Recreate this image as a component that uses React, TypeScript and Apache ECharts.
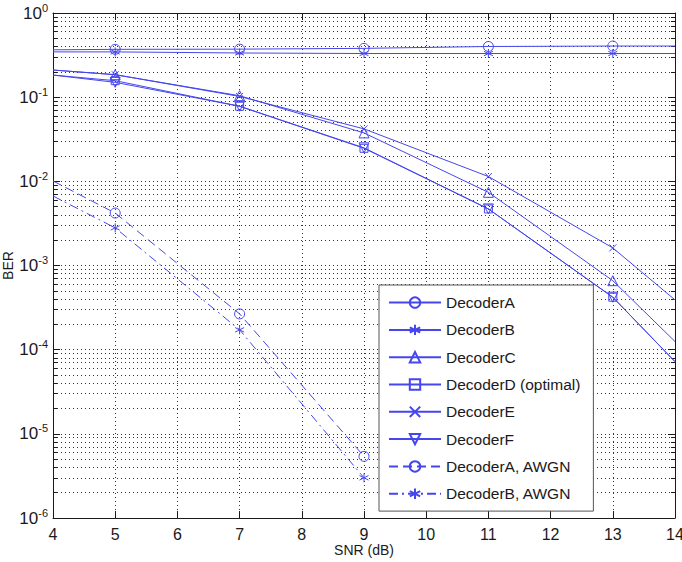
import React, { useEffect, useRef } from "react";
import * as echarts from "echarts";

// SNR points (dB); markers are drawn only at the odd ones
const snr = [4, 5, 7, 9, 11, 13, 14];
const decoderA = [0.365, 0.37, 0.372, 0.38, 0.4, 0.405, 0.405];
const decoderB = [0.345, 0.345, 0.335, 0.33, 0.33, 0.33, 0.33];
const decoderC = [0.21, 0.185, 0.104, 0.0376, 0.0074, 0.00066, 0.000125];
const decoderD = [0.183, 0.157, 0.078, 0.0247, 0.0047, 0.00042, 0.000072];
const decoderE = [0.21, 0.185, 0.102, 0.042, 0.0114, 0.00162, 0.00039];
const decoderF = [0.183, 0.15, 0.078, 0.025, 0.0047, 0.00042, 0.000072];

const snrAwgn = [4, 5, 7, 9];
const awgnA = [0.0101, 0.0042, 0.000266, 0.0000054];
const awgnB = [0.0067, 0.0028, 0.000172, 0.000003];

const seriesNames = [
  "DecoderA",
  "DecoderB",
  "DecoderC",
  "DecoderD (optimal)",
  "DecoderE",
  "DecoderF",
  "DecoderA, AWGN",
  "DecoderB, AWGN",
];

const decades = [1e-6, 1e-5, 1e-4, 1e-3, 1e-2, 1e-1, 1];
const minorSteps = [2, 3, 4, 5, 6, 7, 8, 9];
const snrTicks = [4, 5, 6, 7, 8, 9, 10, 11, 12, 13, 14];

const BLUE = "#4646ee";
const INK = "#1a1a1a";
const FONT = "'Liberation Sans', Arial, Helvetica, sans-serif";

const SYM_STAR = "path://M5,0L5,10M0.67,2.5L9.33,7.5M0.67,7.5L9.33,2.5";
const SYM_X = "path://M0,0L10,10M0,10L10,0";
const SYM_DOWN = "path://M0,0L10,0L5,10Z";

function minorValues() {
  const out: number[] = [];
  for (let i = 0; i < decades.length - 1; i++) {
    for (const m of minorSteps) out.push(m * decades[i]);
  }
  return out;
}

function points(xs: number[], ys: number[], edgesPlain: boolean) {
  return xs.map((x, i) => {
    const plain = edgesPlain && (x === 4 || x === 14);
    return plain ? { value: [x, ys[i]], symbol: "none" } : { value: [x, ys[i]] };
  });
}

function lineSeries(
  name: string,
  xs: number[],
  ys: number[],
  symbol: string,
  symbolSize: number,
  dash: number[] | "solid",
  edgesPlain: boolean
) {
  return {
    name,
    type: "line",
    xAxisIndex: 0,
    yAxisIndex: 0,
    data: points(xs, ys, edgesPlain),
    symbol,
    symbolSize,
    showAllSymbol: true,
    color: BLUE,
    lineStyle: { color: BLUE, width: 1, type: dash },
    itemStyle: { color: "rgba(0,0,0,0)", borderColor: BLUE, borderWidth: 1 },
    emphasis: { disabled: true },
    z: 3,
  };
}

export default function App() {
  const ref = useRef<HTMLDivElement>(null);

  useEffect(() => {
    if (!ref.current) return;
    const chart = echarts.init(ref.current, undefined, { renderer: "svg" });
    const minors = minorValues();
    const dotted = { type: [1, 3], color: "#333", width: 1 };

    const logAxisBase = { type: "log", logBase: 10, min: 1e-6, max: 1 };

    chart.setOption({
      animation: false,
      backgroundColor: "#fff",
      grid: {
        left: 53,
        top: 13,
        right: 7,
        bottom: 44,
        containLabel: false,
        outerBoundsMode: "none",
      },
      legend: {
        orient: "vertical",
        left: 379,
        top: 285,
        itemWidth: 52,
        itemHeight: 13,
        itemGap: 11.3,
        padding: [9.6, 13, 9.4, 9],
        backgroundColor: "#fff",
        borderColor: "#555",
        borderWidth: 1,
        selectedMode: false,
        textStyle: { fontFamily: FONT, fontSize: 15.5, color: INK },
        data: seriesNames,
      },
      xAxis: [
        {
          type: "value",
          min: 4,
          max: 14,
          interval: 1,
          position: "bottom",
          axisLine: { show: true, onZero: false, lineStyle: { color: INK } },
          axisTick: { show: true, inside: true, length: 7, lineStyle: { color: INK } },
          axisLabel: {
            margin: 8,
            fontFamily: FONT,
            fontSize: 16,
            color: INK,
            customValues: snrTicks,
          },
          splitLine: { show: true, lineStyle: dotted },
          name: "SNR (dB)",
          nameLocation: "middle",
          nameGap: 25,
          nameMoveOverlap: false,
          nameTextStyle: { fontFamily: FONT, fontSize: 14, color: INK },
        },
        {
          type: "value",
          min: 4,
          max: 14,
          interval: 1,
          position: "top",
          axisLine: { show: true, onZero: false, lineStyle: { color: INK } },
          axisTick: { show: true, inside: true, length: 7, lineStyle: { color: INK } },
          axisLabel: { show: false },
          splitLine: { show: false },
        },
      ],
      yAxis: [
        {
          ...logAxisBase,
          position: "left",
          axisLine: { show: true, onZero: false, lineStyle: { color: INK } },
          axisTick: {
            show: true,
            inside: true,
            length: 7,
            customValues: decades,
            lineStyle: { color: INK },
          },
          axisLabel: {
            customValues: decades,
            margin: 5,
            formatter: (v: number) => `{b|10}{s|${Math.round(Math.log10(v))}}`,
            rich: {
              b: { fontFamily: FONT, fontSize: 17, color: INK, lineHeight: 22 },
              s: { fontFamily: FONT, fontSize: 11, color: INK, lineHeight: 10, verticalAlign: "top" },
            },
          },
          splitLine: { show: true, lineStyle: dotted },
          name: "BER",
          nameLocation: "middle",
          nameGap: 38,
          nameMoveOverlap: false,
          nameTextStyle: { fontFamily: FONT, fontSize: 14, color: INK },
        },
        {
          ...logAxisBase,
          position: "left",
          axisLine: { show: false },
          axisTick: {
            show: true,
            inside: true,
            length: 4,
            customValues: minors,
            lineStyle: { color: INK },
          },
          axisLabel: { show: false },
          splitLine: { show: true, lineStyle: dotted },
        },
        {
          ...logAxisBase,
          position: "right",
          axisLine: { show: true, onZero: false, lineStyle: { color: INK } },
          axisTick: {
            show: true,
            inside: true,
            length: 7,
            customValues: decades,
            lineStyle: { color: INK },
          },
          axisLabel: { show: false },
          splitLine: { show: false },
        },
        {
          ...logAxisBase,
          position: "right",
          axisLine: { show: false },
          axisTick: {
            show: true,
            inside: true,
            length: 4,
            customValues: minors,
            lineStyle: { color: INK },
          },
          axisLabel: { show: false },
          splitLine: { show: false },
        },
      ],
      series: [
        lineSeries(seriesNames[0], snr, decoderA, "circle", 10, "solid", true),
        lineSeries(seriesNames[1], snr, decoderB, SYM_STAR, 9, "solid", true),
        lineSeries(seriesNames[2], snr, decoderC, "triangle", 10, "solid", true),
        lineSeries(seriesNames[3], snr, decoderD, "rect", 8, "solid", true),
        lineSeries(seriesNames[4], snr, decoderE, SYM_X, 7, "solid", true),
        lineSeries(seriesNames[5], snr, decoderF, SYM_DOWN, 10, "solid", true),
        lineSeries(seriesNames[6], snrAwgn, awgnA, "circle", 10, [9, 5], true),
        lineSeries(seriesNames[7], snrAwgn, awgnB, SYM_STAR, 9, [9, 4, 2, 4], true),
      ],
    });

    return () => chart.dispose();
  }, []);

  return (
    <div
      ref={ref}
      style={{ position: "fixed", left: 0, top: 0, width: 682, height: 562, background: "#fff" }}
    />
  );
}
